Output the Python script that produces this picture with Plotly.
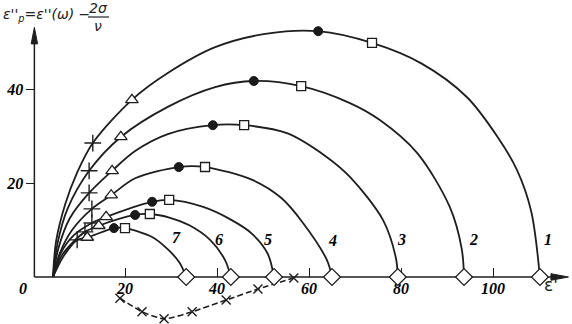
import plotly.graph_objects as go

# ---------------- data ----------------
curve_names = ["1", "2", "3", "4", "5", "6", "7"]

eps1_c1 = [4.35, 5.0, 7.0, 9.5, 13.0, 21.5, 29.3, 39.6, 50.9, 62.0, 73.7, 84.5, 94.3, 101.0, 105.2, 108.3, 110.2]
eps2_c1 = [0.0, 7.5, 15.5, 22.0, 28.5, 37.7, 43.4, 48.9, 51.8, 52.3, 49.8, 45.4, 38.3, 29.8, 22.8, 14.0, 0.0]

eps1_c2 = [4.35, 5.3, 7.5, 12.2, 19.1, 29.3, 39.6, 48.0, 58.3, 68.9, 75.4, 83.5, 90.6, 93.2, 93.7]
eps2_c2 = [0.0, 7.0, 14.5, 22.6, 29.8, 36.2, 40.4, 41.7, 40.6, 37.0, 33.4, 26.4, 14.9, 6.0, 0.0]

eps1_c3 = [4.35, 5.5, 8.0, 12.2, 17.2, 22.2, 29.3, 39.1, 45.9, 55.2, 63.9, 68.9, 76.1, 78.9, 79.3]
eps2_c3 = [0.0, 6.0, 12.5, 17.9, 22.6, 26.8, 30.4, 32.3, 32.3, 30.6, 25.5, 21.3, 12.1, 4.0, 0.0]

eps1_c4 = [4.35, 5.8, 8.5, 12.8, 17.0, 22.2, 31.7, 37.4, 47.8, 54.0, 58.7, 63.9, 65.0]
eps2_c4 = [0.0, 5.0, 10.0, 14.5, 17.4, 21.0, 23.4, 23.4, 20.6, 16.8, 11.5, 3.6, 0.0]

eps1_c5 = [4.35, 6.0, 9.0, 12.8, 15.9, 25.9, 29.6, 37.0, 43.0, 47.5, 51.0, 52.4]
eps2_c5 = [0.0, 5.0, 9.0, 11.5, 12.8, 16.0, 16.4, 14.9, 12.2, 9.3, 5.0, 0.0]

eps1_c6 = [4.35, 6.2, 8.8, 11.3, 14.3, 22.2, 25.4, 29.8, 34.0, 38.5, 41.8, 43.0]
eps2_c6 = [0.0, 4.5, 7.5, 9.6, 10.9, 13.2, 13.4, 12.6, 11.0, 7.9, 3.5, 0.0]

eps1_c7 = [4.35, 6.5, 9.6, 11.8, 17.6, 20.0, 25.9, 29.5, 31.9, 33.3]
eps2_c7 = [0.0, 4.2, 7.9, 8.4, 10.4, 10.4, 8.5, 5.7, 3.0, 0.0]

plus_eps1 = [13.0, 12.2, 12.2, 12.8, 12.8, 11.3, 9.6]
plus_eps2 = [28.5, 22.6, 17.9, 14.5, 11.5, 9.6, 7.9]
tri_eps1 = [21.5, 19.1, 17.2, 17.0, 15.9, 14.3, 11.8]
tri_eps2 = [37.7, 29.8, 22.6, 17.4, 12.8, 10.9, 8.4]
dot_eps1 = [62.0, 48.0, 39.1, 31.7, 25.9, 22.2, 17.6]
dot_eps2 = [52.3, 41.7, 32.3, 23.4, 16.0, 13.2, 10.4]
sq_eps1 = [73.7, 58.3, 45.9, 37.4, 29.6, 25.4, 20.0]
sq_eps2 = [49.8, 40.6, 32.3, 23.4, 16.4, 13.4, 10.4]
dia_eps1 = [110.2, 93.7, 79.3, 65.0, 52.4, 43.0, 33.3]
dia_eps2 = [0.0, 0.0, 0.0, 0.0, 0.0, 0.0, 0.0]

dash_eps1 = [18.9, 23.7, 28.5, 34.6, 42.0, 48.9, 56.7]
dash_eps2 = [-4.5, -7.4, -8.9, -7.4, -4.9, -2.55, -0.2]

label_eps1 = [112.0, 95.7, 80.2, 65.2, 51.1, 40.4, 31.1]
label_eps2 = [7.9, 7.9, 7.9, 7.7, 7.9, 7.9, 8.3]

x_tick_vals = [20, 40, 60, 80, 100]
x_tick_text = ["20", "40", "60", "80", "100"]
y_tick_vals = [20, 40]
y_tick_text = ["20", "40"]

# ---------------- figure ----------------
W, H = 572, 324
XR = [-33 / 4.6, (W - 33) / 4.6]
YR = [(277 - H) / 4.7, 277 / 4.7]
YAX_X = 0.3

curves_x = [eps1_c1, eps1_c2, eps1_c3, eps1_c4, eps1_c5, eps1_c6, eps1_c7]
curves_y = [eps2_c1, eps2_c2, eps2_c3, eps2_c4, eps2_c5, eps2_c6, eps2_c7]

fig = go.Figure()
for name, cx, cy in zip(curve_names, curves_x, curves_y):
    fig.add_trace(go.Scatter(x=cx, y=cy, mode="lines", name=name,
                             line=dict(color="#1e1e1e", width=1.8, shape="spline", smoothing=0.9),
                             hoverinfo="skip", showlegend=False))

fig.add_trace(go.Scatter(x=dash_eps1, y=dash_eps2, mode="lines+markers",
                         line=dict(color="#1e1e1e", width=1.6, dash="6px,3px", shape="spline", smoothing=0.6),
                         marker=dict(symbol="x-thin", size=9, line=dict(color="#1e1e1e", width=1.4)),
                         showlegend=False, cliponaxis=False))

mk = dict(mode="markers", showlegend=False, cliponaxis=False)
fig.add_trace(go.Scatter(x=plus_eps1, y=plus_eps2,
                         marker=dict(symbol="cross-thin", size=12, line=dict(color="#1e1e1e", width=1.4)), **mk))
fig.add_trace(go.Scatter(x=tri_eps1, y=tri_eps2,
                         marker=dict(symbol="triangle-up", size=11, color="white",
                                     line=dict(color="#1e1e1e", width=1.3)), **mk))
fig.add_trace(go.Scatter(x=dot_eps1, y=dot_eps2,
                         marker=dict(symbol="circle", size=9, color="#1a1a1a",
                                     line=dict(color="#1a1a1a", width=1)), **mk))
fig.add_trace(go.Scatter(x=sq_eps1, y=sq_eps2,
                         marker=dict(symbol="square", size=9, color="white",
                                     line=dict(color="#1e1e1e", width=1.3)), **mk))
fig.add_trace(go.Scatter(x=dia_eps1, y=dia_eps2,
                         marker=dict(symbol="diamond", size=13, color="white",
                                     line=dict(color="#1e1e1e", width=1.3)), **mk))

lab_font = dict(family="Liberation Serif", size=16, color="black", style="italic", weight="bold")
for name, lx, ly in zip(curve_names, label_eps1, label_eps2):
    fig.add_annotation(x=lx, y=ly, text=name, showarrow=False, font=lab_font,
                       xanchor="center", yanchor="middle")

# axis lines (below traces) and arrowheads
fig.add_shape(type="line", x0=YAX_X, y0=0, x1=114.0, y1=0, layer="below",
              line=dict(color="#1e1e1e", width=1.5))
fig.add_shape(type="line", x0=YAX_X, y0=0, x1=YAX_X, y1=50.5, layer="below",
              line=dict(color="#1e1e1e", width=1.5))
fig.add_shape(type="path", path="M 112.6,-0.7 L 116.4,0 L 112.6,0.7 Z", layer="below",
              fillcolor="#1e1e1e", line=dict(color="#1e1e1e", width=1))
fig.add_shape(type="path", path=f"M {YAX_X-0.7},49.6 L {YAX_X},53.1 L {YAX_X+0.7},49.6 Z", layer="below",
              fillcolor="#1e1e1e", line=dict(color="#1e1e1e", width=1))

# "0" at the origin and axis titles
fig.add_annotation(x=-2.2, y=-2.4, text="0", showarrow=False, font=lab_font)
fig.add_annotation(x=560 / W, y=1 - 297 / H, xref="paper", yref="paper", text="ε'", showarrow=False,
                   font=dict(family="DejaVu Sans", size=17, color="#222"))
tfont = dict(family="DejaVu Sans", size=14, color="#222", style="italic")
fig.add_annotation(x=1 / W, y=1 - 15 / H, xref="paper", yref="paper", xanchor="left", yanchor="middle",
                   text="ε''<sub>p</sub>=ε''(ω) −", showarrow=False, font=tfont)
fig.add_annotation(x=98 / W, y=1 - 8 / H, xref="paper", yref="paper", xanchor="center", yanchor="middle",
                   text="2σ", showarrow=False, font=tfont)
fig.add_annotation(x=98 / W, y=1 - 26 / H, xref="paper", yref="paper", xanchor="center", yanchor="middle",
                   text="ν", showarrow=False, font=tfont)
fig.add_shape(type="line", xref="paper", yref="paper", x0=88 / W, x1=109 / W, y0=1 - 17 / H, y1=1 - 17 / H,
              line=dict(color="#222", width=1.2))

tick_font = dict(family="Liberation Serif", size=16, color="black", style="italic", weight="bold")
fig.update_layout(
    width=W, height=H, margin=dict(l=0, r=0, t=0, b=0),
    paper_bgcolor="white", plot_bgcolor="white", showlegend=False,
    xaxis=dict(range=XR, showgrid=False, zeroline=False, showline=False,
               anchor="free", position=(0 - YR[0]) / (YR[1] - YR[0]),
               tickvals=x_tick_vals, ticktext=x_tick_text, ticks="inside", ticklen=9,
               tickwidth=1.3, tickcolor="#1e1e1e", tickfont=tick_font, layer="below traces",
               automargin=False, fixedrange=True),
    yaxis=dict(range=YR, showgrid=False, zeroline=False, showline=False,
               anchor="free", position=(YAX_X - XR[0]) / (XR[1] - XR[0]),
               tickvals=y_tick_vals, ticktext=y_tick_text, ticks="outside", ticklen=8,
               tickwidth=1.3, tickcolor="#1e1e1e", tickfont=tick_font,
               automargin=False, fixedrange=True),
)

fig.write_html("out.html", config={"displayModeBar": False},
               post_script="document.body.style.margin='0px';document.body.style.overflow='hidden';")
